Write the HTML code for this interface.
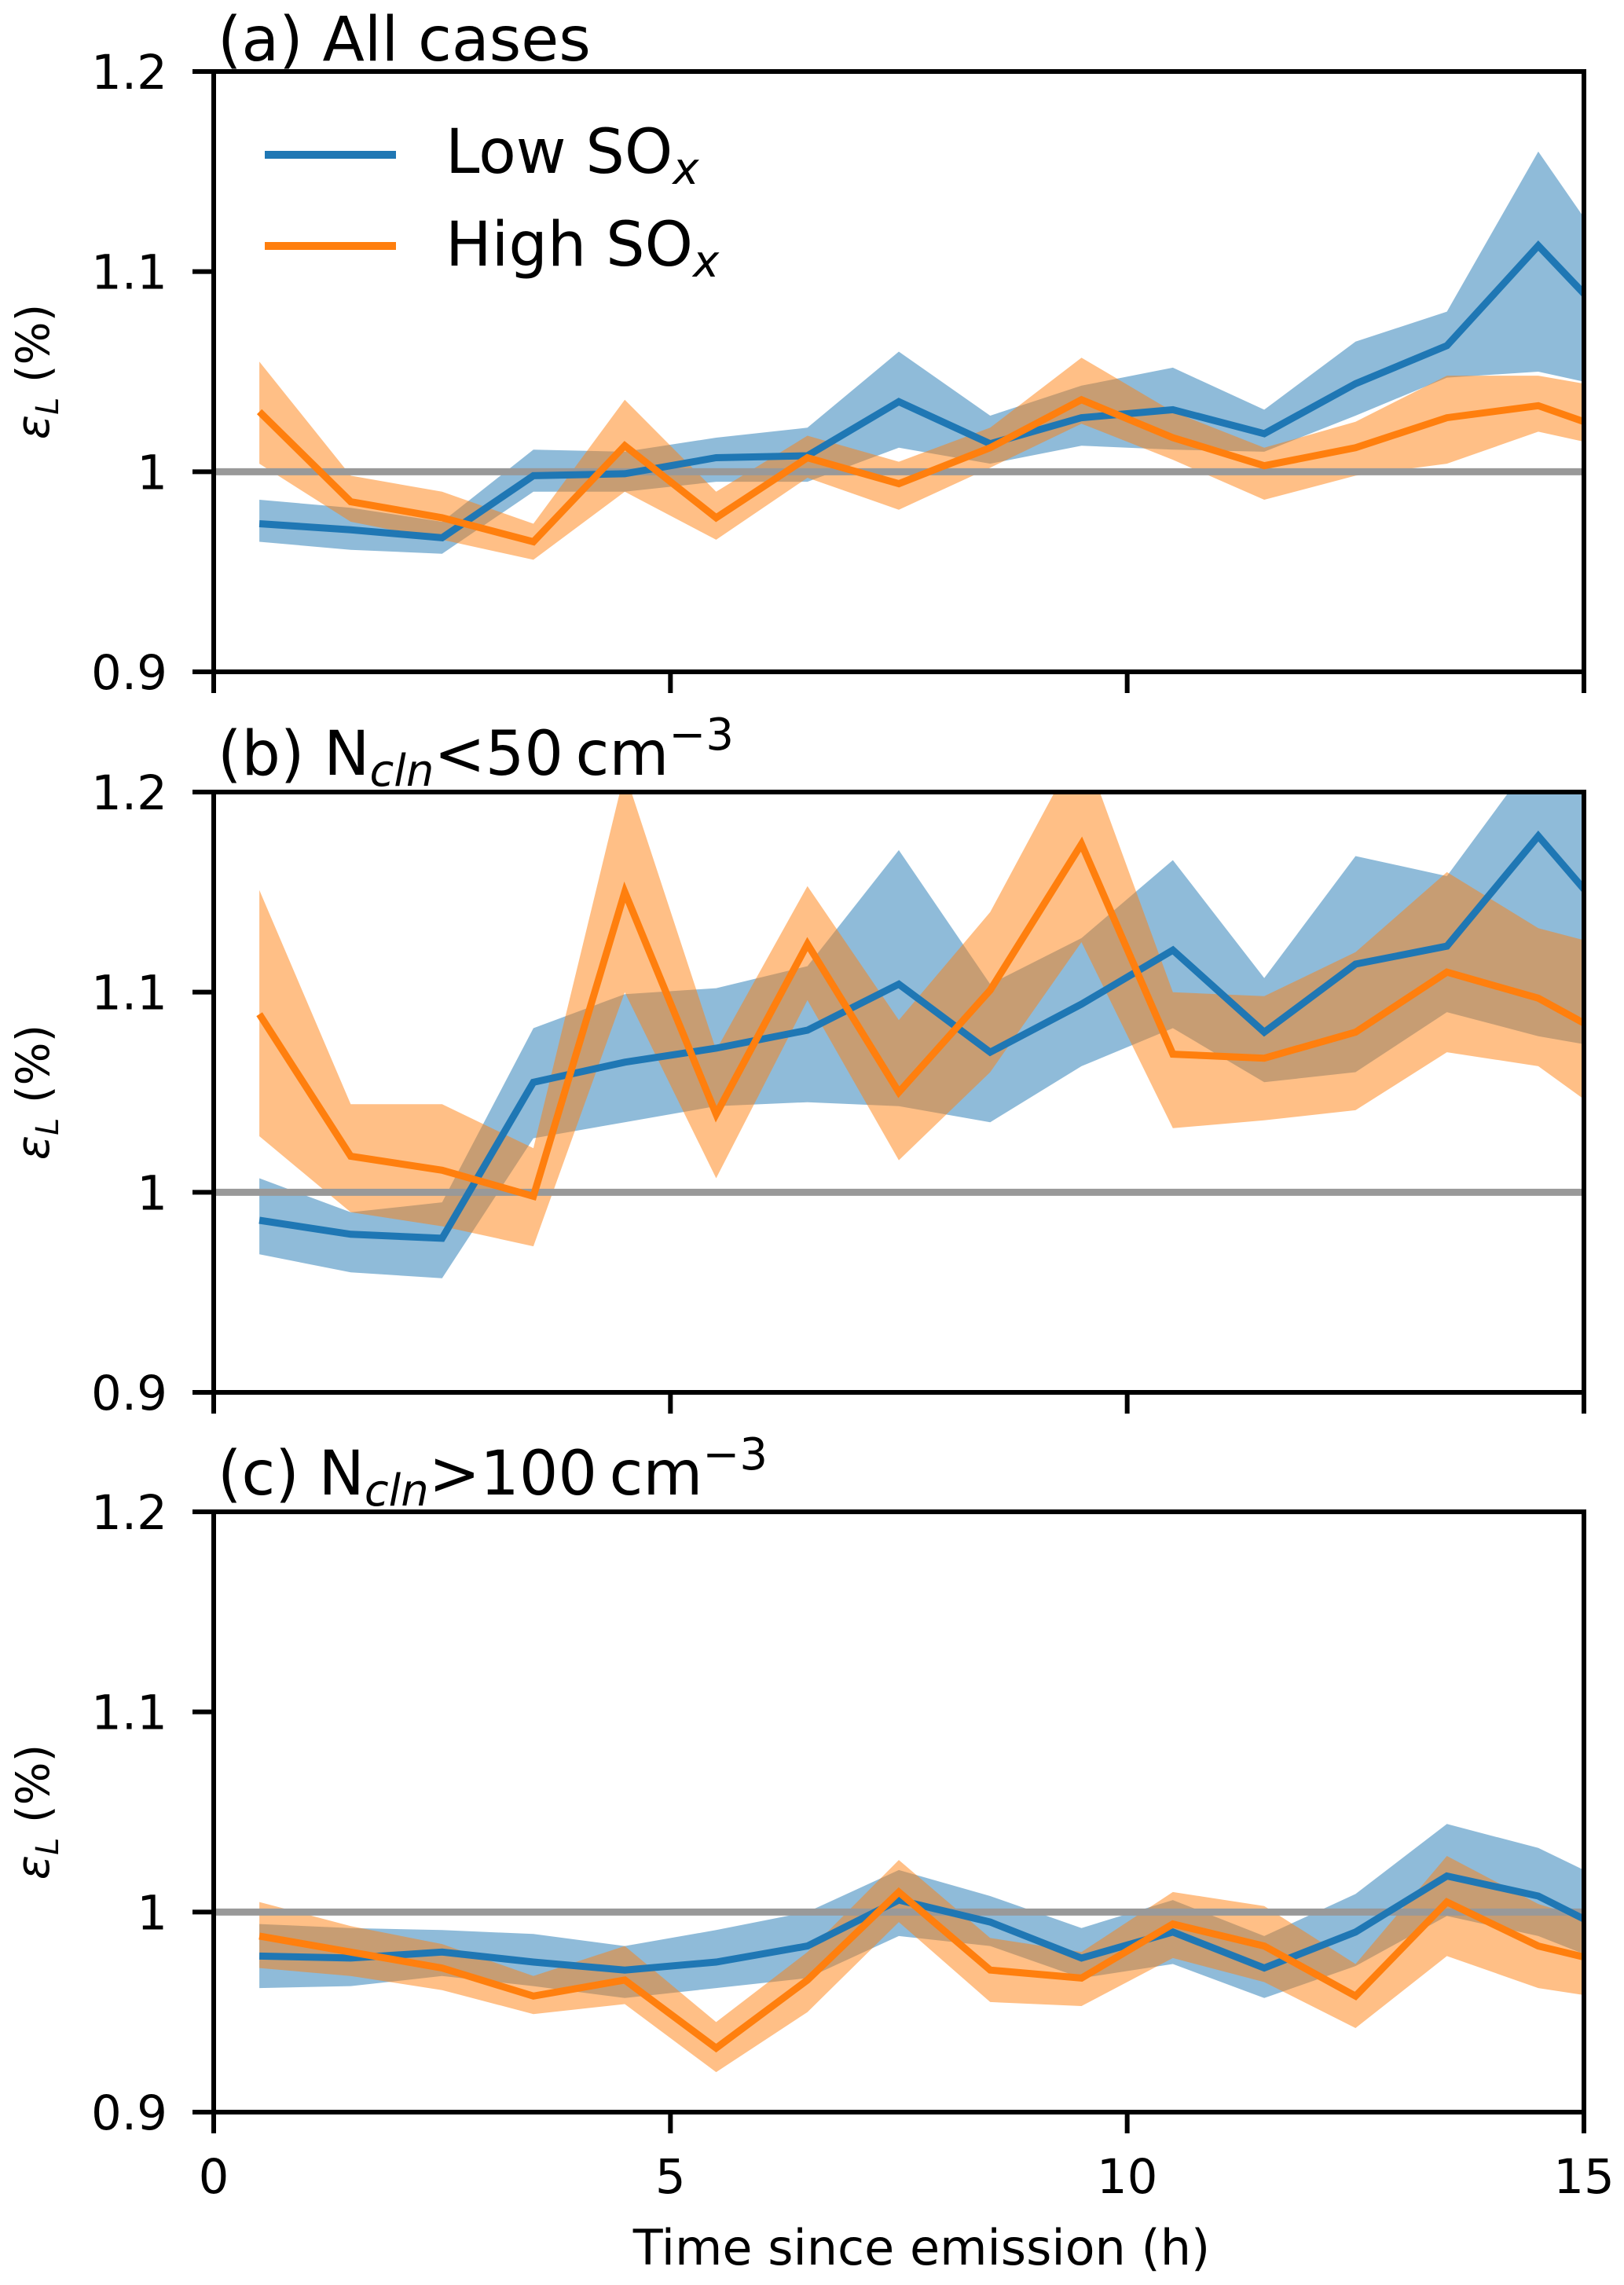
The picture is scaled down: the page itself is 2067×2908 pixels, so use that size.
<!DOCTYPE html>
<html><head><meta charset="utf-8"><style>
html,body{margin:0;padding:0;background:#fff;}
svg{display:block;font-family:"DejaVu Sans","Liberation Sans",sans-serif;}
</style></head><body>
<svg id="chart" width="2067" height="2908" viewBox="0 0 2067 2908" xmlns="http://www.w3.org/2000/svg"></svg>
<script>
const hours = [0.5,1.5,2.5,3.5,4.5,5.5,6.5,7.5,8.5,9.5,10.5,11.5,12.5,13.5,14.5,15.5];
const xTicks = [0,5,10,15];
const yTicks = [0.9,1.0,1.1,1.2];
const yTickLabels = ["0.9","1","1.1","1.2"];
// Panel a
const aLow    = [0.974,0.971,0.967,0.998,0.999,1.007,1.008,1.035,1.014,1.027,1.031,1.019,1.044,1.063,1.113,1.065];
const aLowLo  = [0.965,0.961,0.959,0.990,0.990,0.995,0.995,1.012,1.004,1.013,1.011,1.010,1.028,1.047,1.050,1.040];
const aLowHi  = [0.986,0.982,0.975,1.011,1.010,1.017,1.022,1.060,1.028,1.043,1.052,1.031,1.065,1.080,1.160,1.094];
const aHigh   = [1.030,0.985,0.977,0.965,1.013,0.977,1.007,0.994,1.012,1.036,1.017,1.003,1.012,1.027,1.033,1.017];
const aHighLo = [1.004,0.975,0.966,0.956,0.990,0.966,0.997,0.981,1.002,1.024,1.006,0.986,0.998,1.004,1.020,1.010];
const aHighHi = [1.055,0.998,0.990,0.974,1.036,0.990,1.018,1.005,1.022,1.057,1.030,1.012,1.025,1.048,1.048,1.040];
// Panel b
const bLow    = [0.986,0.979,0.977,1.055,1.065,1.072,1.081,1.104,1.070,1.094,1.121,1.080,1.114,1.123,1.178,1.125];
const bLowLo  = [0.969,0.960,0.957,1.027,1.035,1.043,1.045,1.043,1.035,1.063,1.082,1.055,1.060,1.090,1.078,1.070];
const bLowHi  = [1.007,0.990,0.995,1.082,1.099,1.102,1.113,1.171,1.104,1.127,1.166,1.107,1.168,1.158,1.220,1.200];
const bHigh   = [1.089,1.018,1.011,0.998,1.150,1.039,1.124,1.050,1.101,1.174,1.069,1.067,1.080,1.110,1.097,1.072];
const bHighLo = [1.028,0.990,0.983,0.973,1.100,1.007,1.096,1.016,1.060,1.125,1.032,1.036,1.041,1.070,1.063,1.030];
const bHighHi = [1.151,1.044,1.044,1.022,1.210,1.071,1.153,1.086,1.140,1.225,1.100,1.098,1.120,1.160,1.132,1.120];
// Panel c
const cLow    = [0.978,0.977,0.980,0.975,0.971,0.975,0.983,1.006,0.995,0.977,0.990,0.972,0.990,1.018,1.008,0.985];
const cLowLo  = [0.962,0.963,0.968,0.963,0.957,0.962,0.967,0.988,0.983,0.967,0.974,0.957,0.973,0.998,0.988,0.970];
const cLowHi  = [0.994,0.992,0.991,0.989,0.983,0.991,1.000,1.021,1.008,0.992,1.006,0.988,1.009,1.044,1.032,1.010];
const cHigh   = [0.988,0.980,0.972,0.958,0.966,0.932,0.966,1.010,0.971,0.967,0.994,0.983,0.958,1.005,0.983,0.972];
const cHighLo = [0.972,0.968,0.961,0.949,0.954,0.920,0.950,0.995,0.955,0.953,0.977,0.965,0.942,0.978,0.962,0.955];
const cHighHi = [1.005,0.993,0.984,0.968,0.983,0.945,0.980,1.026,0.987,0.980,1.010,1.003,0.974,1.028,1.004,0.990];

const NS = "http://www.w3.org/2000/svg";
const svg = document.getElementById("chart");
const X0 = 272, X1 = 2016, Y0 = 0.9, Y1 = 1.2;
const panelTops = [91, 1008, 1924];
const PH = 764;
const BLUE = "#1f77b4", ORANGE = "#ff7f0e";
function el(tag, attrs, parent) {
  const e = document.createElementNS(NS, tag);
  for (const k in attrs) e.setAttribute(k, attrs[k]);
  (parent || svg).appendChild(e);
  return e;
}
function xs(v) { return X0 + (v - 0) / 15 * (X1 - X0); }
function ysFor(top) { return v => top + PH - (v - Y0) / (Y1 - Y0) * PH; }

const panels = [
  {name:"a", low:aLow, lowLo:aLowLo, lowHi:aLowHi, high:aHigh, highLo:aHighLo, highHi:aHighHi},
  {name:"b", low:bLow, lowLo:bLowLo, lowHi:bLowHi, high:bHigh, highLo:bHighLo, highHi:bHighHi},
  {name:"c", low:cLow, lowLo:cLowLo, lowHi:cLowHi, high:cHigh, highLo:cHighLo, highHi:cHighHi}
];
const defs = el("defs", {});
panels.forEach((p, i) => {
  const top = panelTops[i];
  const ys = ysFor(top);
  const g = el("g", {});
  
  
  const cp = el("clipPath", {id: "clip" + i}, defs);
  el("rect", {x: X0, y: top, width: X1 - X0, height: PH}, cp);
  const plot = el("g", {"clip-path": "url(#clip" + i + ")"}, g);
  function band(lo, hi, color, nm) {
    let d = "";
    hours.forEach((h, k) => { d += (k ? "L" : "M") + xs(h).toFixed(1) + "," + ys(hi[k]).toFixed(1); });
    for (let k = hours.length - 1; k >= 0; k--) d += "L" + xs(hours[k]).toFixed(1) + "," + ys(lo[k]).toFixed(1);
    const b = el("path", {d: d + "Z", fill: color, "fill-opacity": 0.5}, plot);
    
    
  }
  function line(vals, color, nm) {
    const pts = hours.map((h, k) => xs(h).toFixed(1) + "," + ys(vals[k]).toFixed(1)).join(" ");
    const l = el("polyline", {points: pts, fill: "none", stroke: color, "stroke-width": 9, "stroke-linejoin": "miter"}, plot);
    
    
  }
  band(p.lowLo, p.lowHi, BLUE, "low-sox-band");
  band(p.highLo, p.highHi, ORANGE, "high-sox-band");
  const ref = el("line", {x1: X0, x2: X1, y1: ys(1), y2: ys(1), stroke: "#999", "stroke-width": 9}, plot);
  
  
  line(p.low, BLUE, "low-sox-line");
  line(p.high, ORANGE, "high-sox-line");
  const fr = el("rect", {x: X0, y: top, width: X1 - X0, height: PH, fill: "none", stroke: "#000", "stroke-width": 6}, g);
  
  
  yTicks.forEach((t, k) => {
    el("line", {x1: X0 - 27, x2: X0, y1: ys(t), y2: ys(t), stroke: "#000", "stroke-width": 6}, g);
    const tl = el("text", {x: 213, y: ys(t) + 22, "text-anchor": "end", "font-size": 61}, g);
    tl.textContent = yTickLabels[k];
    
    
  });
  xTicks.forEach(t => {
    el("line", {x1: xs(t), x2: xs(t), y1: top + PH, y2: top + PH + 27, stroke: "#000", "stroke-width": 6}, g);
    if (i === 2) {
      const tl = el("text", {x: xs(t), y: 2791, "text-anchor": "middle", "font-size": 61}, g);
      tl.textContent = String(t);
      
      
    }
  });
  const yl = el("text", {x: 0, y: 0, "text-anchor": "middle", "font-size": 58, transform: "translate(62," + (top + PH / 2) + ") rotate(-90)"}, g);
  yl.innerHTML = '<tspan font-style="italic">ε</tspan><tspan font-style="italic" font-size="40" dy="12">L</tspan><tspan dy="-12"> (%)</tspan>';
  
  
});
const titles = [
  [77, '(a) All cases'],
  [986, '(b) N<tspan font-style="italic" font-size="56" dy="14">cln</tspan><tspan dy="-14">&lt;50&#8201;cm</tspan><tspan font-size="56" dy="-32">−3</tspan>'],
  [1902, '(c) N<tspan font-style="italic" font-size="56" dy="14">cln</tspan><tspan dy="-14">&gt;100&#8201;cm</tspan><tspan font-size="56" dy="-32">−3</tspan>']
];
titles.forEach((t, i) => {
  const tt = el("text", {x: 277, y: t[0], "font-size": 78});
  tt.innerHTML = t[1];
  
  
});
[[197, BLUE, "Low SO", 220, "legend-low-sox"], [313, ORANGE, "High SO", 338, "legend-high-sox"]].forEach(r => {
  const lg = el("g", {});
  
  
  el("line", {x1: 337, x2: 504, y1: r[0], y2: r[0], stroke: r[1], "stroke-width": 10}, lg);
  const tx = el("text", {x: 567, y: r[3], "font-size": 78}, lg);
  tx.innerHTML = r[2] + '<tspan font-style="italic" font-size="56" dy="14">x</tspan>';
});
const xl = el("text", {x: 1173, y: 2882, "text-anchor": "middle", "font-size": 62});
xl.textContent = "Time since emission (h)";


</script>
</body></html>
